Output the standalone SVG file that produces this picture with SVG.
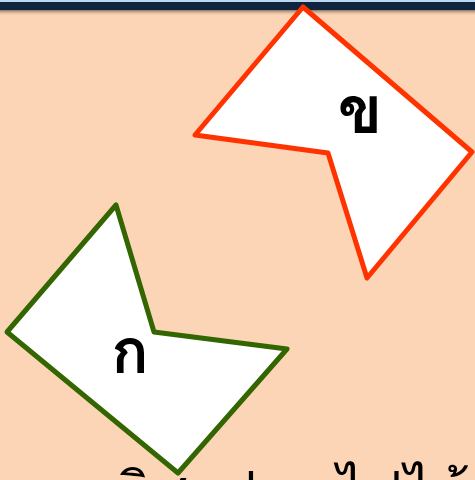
<svg xmlns="http://www.w3.org/2000/svg" width="475" height="480" viewBox="0 0 475 480">
<defs>
<linearGradient id="sh" x1="0" y1="0" x2="0" y2="1">
<stop offset="0" stop-color="#5a4a3f" stop-opacity="0.7"/>
<stop offset="1" stop-color="#fbd5b5" stop-opacity="0"/>
</linearGradient>
<style>
.shape{fill:#ffffff;stroke-width:5;stroke-linejoin:round}
.lbl{font-family:"Tahoma","Loma","Noto Sans Thai","Noto Sans","DejaVu Sans",sans-serif;font-weight:bold;fill:#000;text-anchor:middle}
</style>
</defs>
<rect x="0" y="0" width="475" height="480" fill="#fbd5b5"/>
<rect x="0" y="0" width="475" height="2" fill="#bdd7ee"/>
<rect x="0" y="2" width="475" height="8" fill="#10243f"/>
<rect x="0" y="10" width="475" height="6" fill="url(#sh)"/>
<g id="shape-kho">
<polygon class="shape" stroke="#ff3300" points="303,7 472,152 367,278 328,153 195,135"/>
<text class="lbl" x="360" y="133" font-size="66">ข</text>
</g>
<g id="shape-ko">
<polygon class="shape" stroke="#336600" points="116,205 154,332 287,349 178,473 7,332"/>
<text class="lbl" x="130" y="373" font-size="62">ก</text>
</g>
<g id="connectors"></g>
<text class="lbl" x="-3" y="510" font-size="54" letter-spacing="3" style="text-anchor:start;font-weight:normal">หมุนทิศรูป ก ไปได้รูป ข</text>
</svg>
